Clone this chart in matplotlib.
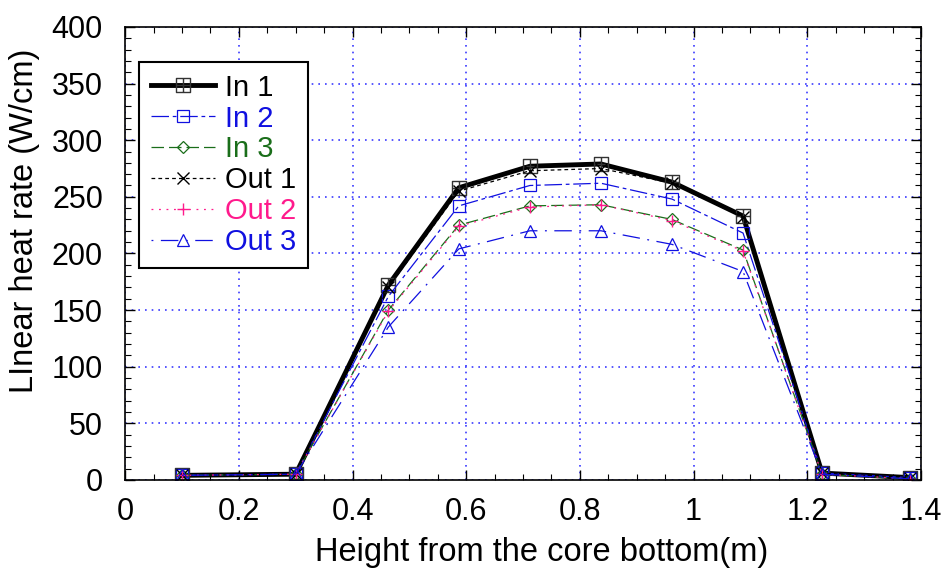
import matplotlib
matplotlib.use('Agg')
import numpy as np
import matplotlib.pyplot as plt
from matplotlib.path import Path
from matplotlib.ticker import MultipleLocator

plt.rcParams['font.family'] = ['Liberation Sans', 'DejaVu Sans']

height = [0.1, 0.3, 0.463, 0.587, 0.712, 0.837, 0.962, 1.087, 1.226, 1.38]
in1 = [4, 5, 172, 258, 277, 279, 263, 233, 6, 2]
in2 = [4, 5, 162, 242, 260, 262, 248, 218, 6, 2]
in3 = [4, 5, 150, 225, 242, 243, 230, 203, 5, 1]
out1 = [4, 5, 170, 255, 273, 275, 262, 232, 6, 2]
out2 = [4, 5, 149, 224, 241, 243, 229, 202, 5, 1]
out3 = [4, 5, 135, 204, 220, 220, 208, 184, 5, 1]

# 네모 안에 십자가 있는 마커
boxplus = Path(
    [(-1, -1), (1, -1), (1, 1), (-1, 1), (-1, -1),
     (0, -1), (0, 1), (-1, 0), (1, 0)],
    [Path.MOVETO, Path.LINETO, Path.LINETO, Path.LINETO, Path.CLOSEPOLY,
     Path.MOVETO, Path.LINETO, Path.MOVETO, Path.LINETO])

blue = '#1010e0'
green = '#1a6e1a'
pink = '#ff1a8c'

series = [
    ("In 1", in1, dict(color='black', lw=3.5, marker=boxplus, ms=10, mec='#333333', mew=1.0, mfc='none', ls='-'), 'black'),
    ("In 2", in2, dict(color=blue, lw=0.9, marker='s', ms=8, mfc='none', mew=0.9, dashes=[14, 3, 3, 3]), blue),
    ("In 3", in3, dict(color=green, lw=0.9, marker='D', ms=6.5, mfc='none', mew=0.9, dashes=[10, 4]), green),
    ("Out 1", out1, dict(color='black', lw=0.9, marker='x', ms=8, mew=1.0, dashes=[3, 2.5]), 'black'),
    ("Out 2", out2, dict(color=pink, lw=0.9, marker='+', ms=9, mew=1.0, dashes=[1.5, 4.5]), pink),
    ("Out 3", out3, dict(color=blue, lw=0.9, marker='^', ms=8, mfc='none', mew=0.9, dashes=[1.5, 6, 14, 6]), blue),
]

fig = plt.figure(figsize=(9.48, 5.74), dpi=100)
ax = fig.add_axes([0.132, 0.164, 0.8395, 0.789])

for label, ys, style, _ in series:
    ax.plot(height, ys, label=label, **style)

ax.set_xlim(0, 1.4)
ax.set_ylim(0, 400)
ax.xaxis.set_minor_locator(MultipleLocator(0.05))
ax.yaxis.set_major_locator(MultipleLocator(50))
ax.yaxis.set_minor_locator(MultipleLocator(10))
ax.set_xticks(np.arange(0, 1.41, 0.2))
ax.set_xticklabels(['0', '0.2', '0.4', '0.6', '0.8', '1', '1.2', '1.4'])
ax.tick_params(which='both', direction='in', top=True, right=True, labelsize=22)
ax.tick_params(which='major', length=7, width=1)
ax.tick_params(which='minor', length=4, width=0.8)
ax.tick_params(axis='x', pad=12)
ax.tick_params(axis='y', pad=16)
ax.grid(True, which='major', color='#3a3aff', ls=(0, (1, 3)), lw=1.2)
for s in ax.spines.values():
    s.set_linewidth(1.2)

ax.set_xlabel('Height from the core bottom(m)', fontsize=23.5)
ax.xaxis.set_label_coords(0.523, -0.126)
ax.set_ylabel('LInear heat rate (W/cm)', fontsize=23.5)
ax.yaxis.set_label_coords(-0.107, 0.572)

leg = ax.legend(loc='upper left', bbox_to_anchor=(0.0176, 0.9227), borderaxespad=0,
                fontsize=21, fancybox=False, framealpha=1, edgecolor='black',
                handlelength=2.2, borderpad=0.4, labelspacing=0.1, handletextpad=0.35)
leg.get_frame().set_linewidth(1.5)
for txt, (_, _, _, c) in zip(leg.get_texts(), series):
    txt.set_color(c)

fig.savefig('out.png', dpi=100)
